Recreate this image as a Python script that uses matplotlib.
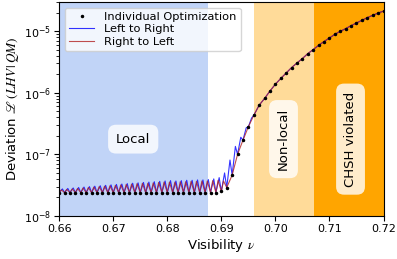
import numpy as np
import matplotlib.pyplot as plt

plt.rcParams['mathtext.fontset'] = 'stix'

# visibility grid of the individual optimizations
v_start, v_stop, v_step = 0.660, 0.720, 0.001
visibility = np.round(np.arange(v_start, v_stop + v_step / 2, v_step), 3)

# deviation of each individual optimization
dev_individual = [
    2.40e-8, 2.40e-8, 2.40e-8, 2.40e-8, 2.40e-8, 2.40e-8, 2.40e-8, 2.40e-8, 2.40e-8, 2.40e-8,  # 0.660-0.669
    2.40e-8, 2.40e-8, 2.40e-8, 2.40e-8, 2.40e-8, 2.40e-8, 2.40e-8, 2.40e-8, 2.40e-8, 2.40e-8,  # 0.670-0.679
    2.40e-8, 2.40e-8, 2.40e-8, 2.40e-8, 2.40e-8, 2.40e-8, 2.40e-8, 2.40e-8, 2.40e-8, 2.40e-8,  # 0.680-0.689
    2.50e-8, 2.90e-8, 4.60e-8, 1.00e-7, 1.70e-7, 2.80e-7, 4.30e-7, 6.30e-7, 8.10e-7, 1.07e-6,  # 0.690-0.699
    1.38e-6, 1.71e-6, 2.10e-6, 2.57e-6, 3.05e-6, 3.60e-6, 4.33e-6, 5.03e-6, 5.90e-6, 6.80e-6,  # 0.700-0.709
    7.76e-6, 8.90e-6, 9.96e-6, 1.10e-5, 1.23e-5, 1.36e-5, 1.50e-5, 1.66e-5, 1.81e-5, 1.97e-5,  # 0.710-0.719
    2.12e-5,                                                                                    # 0.720
]

# sweeps pass through the same points but overshoot in between (sawtooth teeth)
peak_lr = [
    2.75e-8, 2.80e-8, 2.85e-8, 2.90e-8, 2.95e-8, 3.00e-8, 3.05e-8, 3.10e-8, 3.15e-8, 3.20e-8,
    3.25e-8, 3.30e-8, 3.35e-8, 3.40e-8, 3.45e-8, 3.50e-8, 3.55e-8, 3.60e-8, 3.65e-8, 3.70e-8,
    3.75e-8, 3.70e-8, 3.75e-8, 3.80e-8, 3.80e-8, 3.85e-8, 3.85e-8, 3.90e-8, 4.00e-8, 4.20e-8,
    5.00e-8, 8.10e-8, 1.35e-7, 1.90e-7, 2.70e-7, 3.90e-7,
]
peak_rl = [
    2.65e-8, 2.70e-8, 2.75e-8, 2.80e-8, 2.85e-8, 2.90e-8, 2.95e-8, 3.00e-8, 3.05e-8, 3.10e-8,
    3.15e-8, 3.20e-8, 3.25e-8, 3.30e-8, 3.35e-8, 3.40e-8, 3.40e-8, 3.45e-8, 3.50e-8, 3.55e-8,
    3.55e-8, 3.55e-8, 3.60e-8, 3.60e-8, 3.65e-8, 3.65e-8, 3.70e-8, 3.70e-8, 3.75e-8, 3.80e-8,
    3.70e-8,
]

local_end, nonlocal_start, chsh_bound = 0.6875, 0.6961, 1 / np.sqrt(2)
region_labels = ['Local', 'Non-local', 'CHSH violated']


def sweep_line(peaks, offset):
    '''merge grid points with the tooth peaks placed at grid + offset'''
    n = len(peaks)
    x = np.concatenate([visibility, visibility[:n] + offset])
    y = np.concatenate([dev_individual, peaks])
    order = np.argsort(x)
    return x[order], y[order]


fig, ax = plt.subplots(figsize=(3.97, 2.59), dpi=100)
fig.subplots_adjust(left=0.149, right=0.966, bottom=0.166, top=0.993)

ax.axvspan(v_start, local_end, color='cornflowerblue', alpha=0.4, lw=0)
ax.axvspan(nonlocal_start, chsh_bound, color='orange', alpha=0.4, lw=0)
ax.axvspan(chsh_bound, v_stop, color='orange', alpha=1.0, lw=0)

x_lr, y_lr = sweep_line(peak_lr, 0.0006)
x_rl, y_rl = sweep_line(peak_rl, 0.0004)
ax.plot(visibility, dev_individual, 'k.', ms=3, label='Individual Optimization', zorder=3)
ax.plot(x_lr, y_lr, color='blue', lw=0.8, alpha=0.8, label='Left to Right', zorder=2)
ax.plot(x_rl, y_rl, color='firebrick', lw=0.8, alpha=0.8, label='Right to Left', zorder=2)

ax.set_yscale('log')
ax.set_xlim(v_start, v_stop)
ax.set_ylim(1e-8, 3e-5)
ax.set_xticks([0.66, 0.67, 0.68, 0.69, 0.70, 0.71, 0.72])
ax.tick_params(labelsize=8, pad=2.5)
ax.set_xlabel(r'Visibility $\nu$', fontsize=9.5, labelpad=2)
ax.set_ylabel(r'Deviation $\mathscr{L}\;(LHV\,|\,QM)$', fontsize=9.5, labelpad=2)

box = dict(boxstyle='round,pad=0.6', fc='white', ec='none', alpha=0.8)
ax.text(0.6737, 1.77e-7, region_labels[0], fontsize=9.5, ha='center', va='center', bbox=box)
ax.text(0.7015, 1.77e-7, region_labels[1], fontsize=9.5, ha='center', va='center',
        rotation=90, bbox=box)
ax.text(0.7139, 1.77e-7, region_labels[2], fontsize=9.5, ha='center', va='center',
        rotation=90, bbox=box)

ax.legend(loc='upper left', fontsize=8.2, handlelength=2.2, borderpad=0.4, labelspacing=0.2)

fig.savefig('out.png')
